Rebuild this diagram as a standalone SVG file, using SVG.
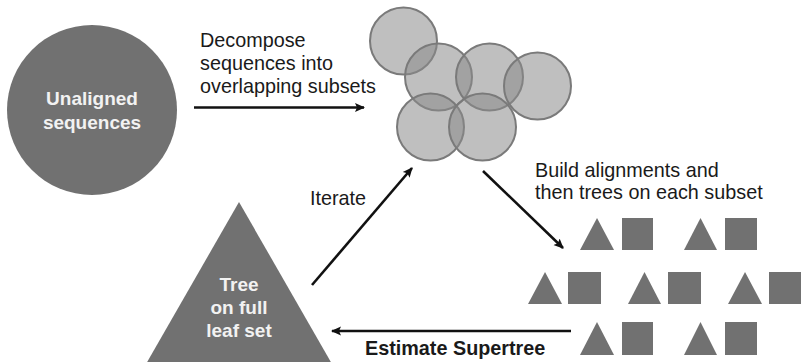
<svg xmlns="http://www.w3.org/2000/svg" width="801" height="362" viewBox="0 0 801 362">
<defs>
<style>
.lbl{font-family:"Liberation Sans",Arial,sans-serif;font-size:19.8px;fill:#1a1a1a}
.bold{font-weight:bold}
.wt{font-family:"Liberation Sans",Arial,sans-serif;font-size:19px;font-weight:bold;fill:#f2f2f2;text-anchor:middle}
.sub{fill:#8a8a8a;fill-opacity:0.55;stroke:#7a7a7a;stroke-width:2}
.shape{fill:#717171}
.conn{stroke:#111;stroke-width:2.6;fill:none;marker-end:url(#ah)}
</style>
<marker id="ah" markerWidth="10" markerHeight="10" viewBox="0 0 10 10" refX="9" refY="5" orient="auto" markerUnits="userSpaceOnUse">
<path d="M0,0.5 L10,5 L0,9.5 L2,5 Z" fill="#111"/>
</marker>
</defs>
<rect width="801" height="362" fill="#fff"/>
<g id="unaligned">
<circle cx="92" cy="110" r="85" fill="#717171"/>
<text class="wt" x="92" y="105">Unaligned</text>
<text class="wt" x="92" y="129">sequences</text>
</g>
<g id="subsets">
<circle class="sub" cx="403.5" cy="41" r="33.5"/>
<circle class="sub" cx="438.5" cy="77" r="33.5"/>
<circle class="sub" cx="489.5" cy="77" r="33.5"/>
<circle class="sub" cx="537.5" cy="86" r="33.5"/>
<circle class="sub" cx="430.5" cy="127" r="33.5"/>
<circle class="sub" cx="482.5" cy="127" r="33.5"/>
</g>
<g id="subtrees">
<polygon class="shape" points="580,250 597,218 614,250"/>
<rect class="shape" x="622" y="218" width="31" height="32"/>
<polygon class="shape" points="684,250 700.5,218 717,250"/>
<rect class="shape" x="725" y="218" width="32" height="32"/>
<polygon class="shape" points="528,304 545,272 562,304"/>
<rect class="shape" x="568" y="272" width="33" height="32"/>
<polygon class="shape" points="628,304 644.5,272 661,304"/>
<rect class="shape" x="668" y="272" width="33" height="32"/>
<polygon class="shape" points="728,304 745,272 762,304"/>
<rect class="shape" x="769" y="272" width="33" height="32"/>
<polygon class="shape" points="580,355 597,322 614,355"/>
<rect class="shape" x="622" y="322" width="31" height="33"/>
<polygon class="shape" points="684,355 700.5,322 717,355"/>
<rect class="shape" x="725" y="322" width="32" height="33"/>
</g>
<g id="fulltree">
<polygon points="239,202 146,364 332,364" fill="#717171"/>
<text class="wt" x="239" y="291">Tree</text>
<text class="wt" x="239" y="314">on full</text>
<text class="wt" x="239" y="337">leaf set</text>
</g>
<g id="connectors">
<line class="conn" x1="194" y1="107.5" x2="364" y2="107.5"/>
<line class="conn" x1="483" y1="171" x2="563" y2="248"/>
<line class="conn" x1="571" y1="331" x2="332" y2="331"/>
<line class="conn" x1="312" y1="285" x2="412" y2="168"/>
</g>
<g id="labels">
<text class="lbl" x="200" y="47">Decompose</text>
<text class="lbl" x="200" y="70">sequences into</text>
<text class="lbl" x="200" y="93">overlapping subsets</text>
<text class="lbl" x="535" y="177">Build alignments and</text>
<text class="lbl" x="535" y="199">then trees on each subset</text>
<text class="lbl" x="310" y="205">Iterate</text>
<text class="lbl bold" x="365" y="355">Estimate Supertree</text>
</g>
</svg>
